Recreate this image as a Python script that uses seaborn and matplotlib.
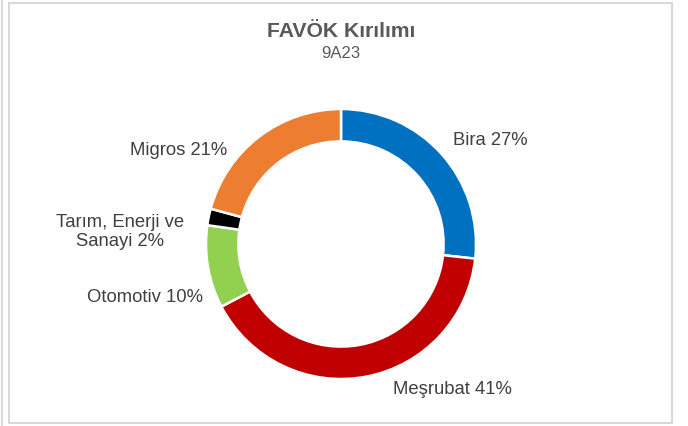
import matplotlib
matplotlib.use("Agg")
import matplotlib.pyplot as plt
import seaborn as sns
from matplotlib.patches import Rectangle
from matplotlib.lines import Line2D

# ---- data ----
categories = ["Bira", "Meşrubat", "Otomotiv", "Tarım, Enerji ve\nSanayi", "Migros"]
values = [27, 41, 10, 2, 21]
colors = ["#0070C0", "#C00000", "#92D050", "#000000", "#ED7D31"]
title = "FAVÖK Kırılımı"
subtitle = "9A23"

sns.set_theme(style="white")
plt.rcParams["font.family"] = ["Liberation Sans", "DejaVu Sans"]

W, H = 688, 426
fig = plt.figure(figsize=(W / 100, H / 100), dpi=100)
fig.patch.set_facecolor("white")

# donut geometry (pixels)
cx, cy, R = 341, 244, 135
ax = fig.add_axes([(cx - R) / W, (H - cy - R) / H, 2 * R / W, 2 * R / H])
ax.pie(values, colors=colors, startangle=90, counterclock=False,
       wedgeprops=dict(width=0.24, edgecolor="white", linewidth=1.8))
ax.set_xlim(-1, 1)
ax.set_ylim(-1, 1)
ax.set_aspect("equal")
ax.axis("off")

# label positions (data coords relative to donut)
def px(x, y):
    return ((x - cx) / R, (cy - y) / R)

label_pos = [px(490, 145), px(452, 394), px(145, 302), px(120, 232), px(178.5, 155)]
label_va = ["baseline", "baseline", "baseline", "center", "baseline"]
txtcol = "#404040"
for cat, v, (lx, ly), va in zip(categories, values, label_pos, label_va):
    ax.text(lx, ly, f"{cat} {v}%", ha="center", va=va, fontsize=13.3,
            color=txtcol, clip_on=False, linespacing=1.2)

fig.text(341 / W, 1 - 37.3 / H, title, ha="center", va="baseline",
         fontsize=15.2, fontweight="bold", color="#595959")
fig.text(341 / W, 1 - 57.5 / H, subtitle, ha="center", va="baseline",
         fontsize=12, color="#595959")

# chart border
fig.patches.append(Rectangle((9 / W, 3 / H), 663 / W, 420 / H, transform=fig.transFigure,
                             fill=False, edgecolor="#D9D9D9", linewidth=1.5))
fig.lines.append(Line2D([1.5 / W, 1.5 / W], [0, 1], transform=fig.transFigure,
                        color="#D9D9D9", linewidth=1.5))

fig.savefig("out.png", dpi=100, facecolor="white")
